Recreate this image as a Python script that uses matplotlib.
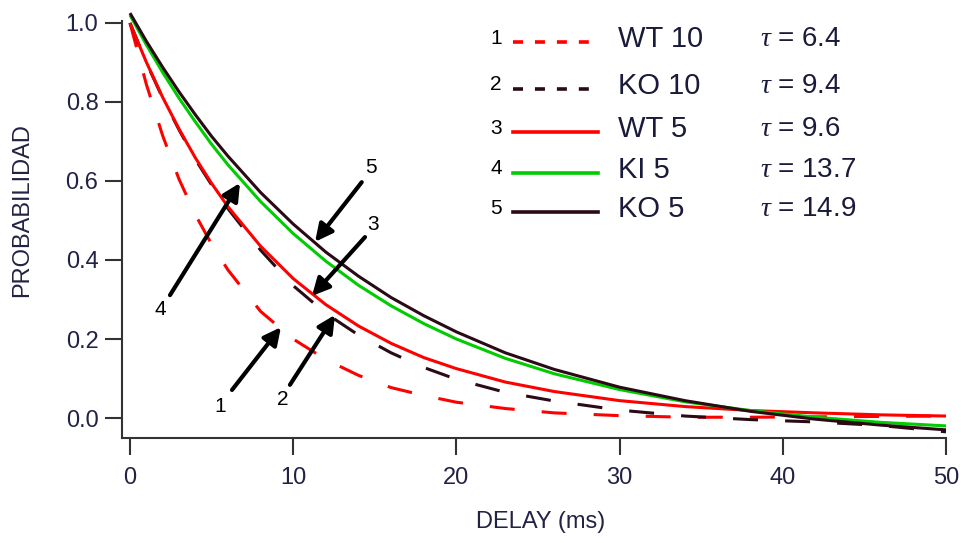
import matplotlib
matplotlib.use('Agg')
import matplotlib.pyplot as plt
from matplotlib.lines import Line2D

plt.rcParams['font.family'] = ['Liberation Sans', 'DejaVu Sans']
plt.rcParams['mathtext.fontset'] = 'custom'
plt.rcParams['mathtext.it'] = 'Liberation Serif:italic'
plt.rcParams['lines.scale_dashes'] = False

# values
delay = [0, 1, 2, 3, 4, 5, 6, 8, 10, 12, 14, 16, 18, 20, 23, 26, 30, 34, 38, 42, 46, 50]
wt10 = [1.0, 0.845, 0.715, 0.605, 0.515, 0.44, 0.375, 0.27, 0.2, 0.148, 0.108, 0.077,
        0.057, 0.04, 0.024, 0.013, 0.006, 0.002, 0.002, 0.003, 0.004, 0.005]
ko10 = [1.0, 0.90, 0.81, 0.73, 0.655, 0.59, 0.53, 0.425, 0.335, 0.265, 0.21, 0.165,
        0.128, 0.098, 0.065, 0.043, 0.02, 0.005, -0.004, -0.01, -0.019, -0.035]
wt5 = [1.0, 0.901, 0.812, 0.732, 0.659, 0.594, 0.535, 0.435, 0.353, 0.287, 0.233, 0.189,
       0.153, 0.125, 0.091, 0.067, 0.044, 0.029, 0.019, 0.013, 0.008, 0.005]
ki5 = [1.02, 0.945, 0.875, 0.81, 0.75, 0.693, 0.641, 0.548, 0.467, 0.397, 0.336, 0.284,
       0.239, 0.2, 0.151, 0.112, 0.072, 0.041, 0.019, 0.002, -0.011, -0.02]
ko5 = [1.025, 0.954, 0.888, 0.826, 0.768, 0.713, 0.663, 0.571, 0.491, 0.42, 0.359, 0.305,
       0.259, 0.218, 0.165, 0.123, 0.078, 0.044, 0.017, -0.003, -0.018, -0.03]

names = ['WT 10', 'KO 10', 'WT 5', 'KI 5', 'KO 5']
taus = ['6.4', '9.4', '9.6', '13.7', '14.9']
series = [wt10, ko10, wt5, ki5, ko5]
colors = ['#ff0000', '#2a0a14', '#ff0000', '#00cc00', '#2a0a14']
dashed = [True, True, False, False, False]

# arrow tips, tails and number positions (data units)
arrow_tip = [(9.25, 0.23), (12.56, 0.261), (11.15, 0.309), (6.74, 0.595), (11.34, 0.446)]
arrow_tail = [(6.25, 0.071), (9.8, 0.084), (14.4, 0.458), (2.45, 0.311), (14.2, 0.597)]
num_pos = [(5.5, 0.03), (9.35, 0.048), (14.9, 0.49), (1.85, 0.275), (14.75, 0.635)]

W, H = 961, 543
fig = plt.figure(figsize=(W / 100, H / 100), dpi=100)
ax = fig.add_axes([122 / W, 1 - 438 / H, 824 / W, 417 / H])

for k in range(5):
    ls = (0, (18, 19.5)) if dashed[k] else '-'
    ax.plot(delay, series[k], color=colors[k], lw=2.2, linestyle=ls, clip_on=False,
            solid_capstyle='butt', dash_capstyle='butt')

for k in range(5):
    ax.annotate('', xy=arrow_tip[k], xytext=arrow_tail[k],
                arrowprops=dict(arrowstyle='-|>', color='black', lw=3, mutation_scale=26,
                                shrinkA=0, shrinkB=0))
    ax.text(num_pos[k][0], num_pos[k][1], str(k + 1), fontsize=15, ha='center', va='center')

ax.set_xlim(-0.49, 50)
ax.set_ylim(-0.0506, 1.005)
ax.set_xticks([0, 10, 20, 30, 40, 50])
ax.set_yticks([0.0, 0.2, 0.4, 0.6, 0.8, 1.0])
ax.set_yticklabels(['%.1f' % v for v in [0.0, 0.2, 0.4, 0.6, 0.8, 1.0]])
for s in ['top', 'right']:
    ax.spines[s].set_visible(False)
for s in ['left', 'bottom']:
    ax.spines[s].set_linewidth(1.5)
    ax.spines[s].set_color('#333333')
ax.tick_params(direction='out', length=12, width=1.5, color='#333333',
               labelsize=17, labelcolor='#222244')
ax.tick_params(axis='x', pad=9)
ax.tick_params(axis='y', pad=5)

fig.text(541 / W, 1 - 522 / H, 'DELAY (ms)', fontsize=17, color='#222244', ha='center', va='center')
fig.text(22 / W, 1 - 210 / H, 'PROBABILIDAD', fontsize=17, color='#222244', rotation=90,
         ha='center', va='center')

# hand-made legend
row_y = [39, 86, 129, 170, 209]
for k in range(5):
    y = row_y[k]
    ls = (0, (7.2, 8.6)) if dashed[k] else '-'
    fig.add_artist(Line2D([513 / W, 598 / W], [1 - (y + 3) / H, 1 - (y + 3) / H],
                          color=colors[k], lw=2.6, linestyle=ls, dash_capstyle='butt'))
    fig.text(496 / W, 1 - (y - 1) / H, str(k + 1), fontsize=15, ha='center', va='center')
    fig.text(618 / W, 1 - y / H, names[k], fontsize=21, color='#1a1a3a', ha='left', va='center')
    fig.text(760 / W, 1 - y / H, r'$\tau$ = ' + taus[k], fontsize=20, color='#1a1a3a',
             ha='left', va='center')

fig.savefig('out.png', dpi=100)
